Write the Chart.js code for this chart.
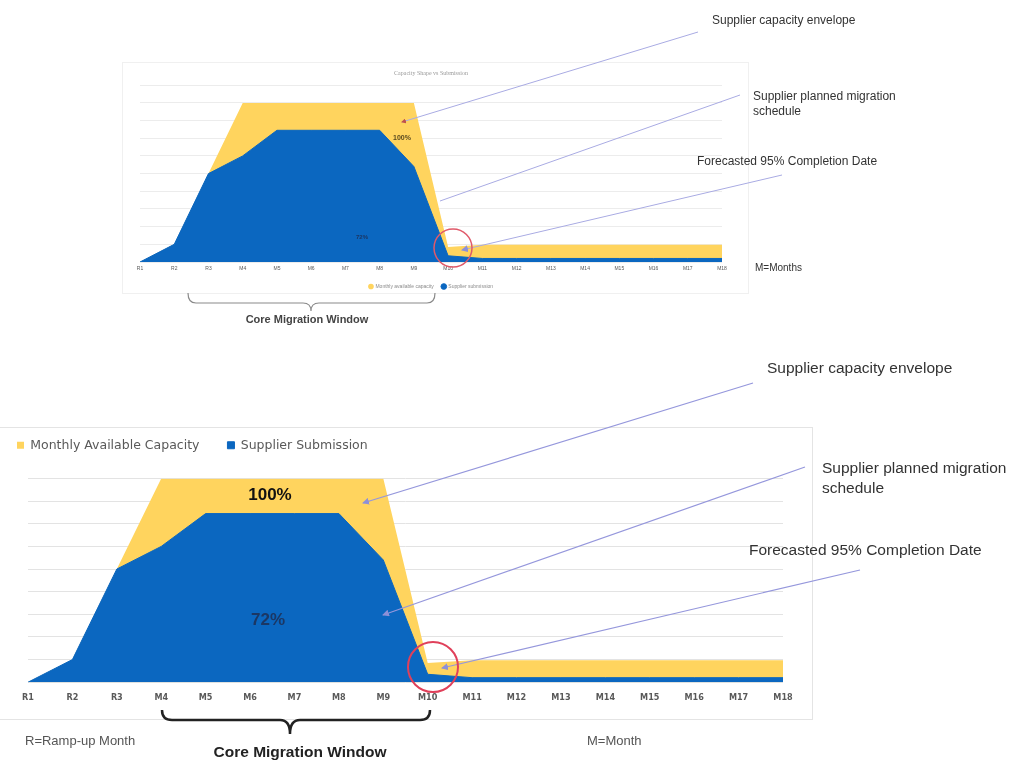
<!DOCTYPE html>
<html>
<head>
<meta charset="utf-8">
<script src="https://cdn.jsdelivr.net/npm/chart.js@4.4.1/dist/chart.umd.min.js"></script>
<style>
  html, body { margin: 0; padding: 0; background: #fff; }
  body { width: 1009px; height: 773px; position: relative; overflow: hidden; font-family: "Liberation Sans", Arial, sans-serif; color: #333; }
  .box { position: absolute; }
  .frame { position: absolute; box-sizing: border-box; }
  .note { position: absolute; white-space: nowrap; line-height: 1; transform: translateY(-50%); }
  .mid { position: absolute; white-space: nowrap; line-height: 1; transform: translate(-50%, -50%); }
</style>
</head>
<body>
<div class="frame" style="left:122px;top:62px;width:627px;height:232px;border:1px solid #f0f0f0"></div>
<div class="frame" style="left:-1px;top:427px;width:814px;height:293px;border:1px solid #e4e4e4"></div>

<div class="box" style="left:0;top:0;width:1009px;height:340px"><canvas id="topChart"></canvas></div>
<div class="box" style="left:-11px;top:340px;width:1020px;height:433px"><canvas id="mainChart"></canvas></div>

<svg width="1009" height="773" style="position:absolute;left:0;top:0;pointer-events:none">
  <defs>
    <marker id="ah" markerWidth="7" markerHeight="7" refX="6" refY="3.5" orient="auto" markerUnits="userSpaceOnUse">
      <path d="M0,0 L7,3.5 L0,7 z" fill="#8d90d8"/>
    </marker>
    <marker id="ahs" markerWidth="5" markerHeight="5" refX="4" refY="2.5" orient="auto" markerUnits="userSpaceOnUse">
      <path d="M0,0 L5,2.5 L0,5 z" fill="#c0504d"/>
    </marker>
  </defs>
  <!-- top chart callouts -->
  <g stroke="#a9abe3" stroke-width="1" fill="none">
    <line x1="698" y1="32" x2="402" y2="122" marker-end="url(#ahs)"/>
    <line x1="740" y1="95" x2="440" y2="201"/>
    <line x1="782" y1="175" x2="462" y2="250" marker-end="url(#ah)"/>
  </g>
  <circle cx="453" cy="248" r="19" stroke="#e05a6a" stroke-width="1.5" fill="none"/>
  <path d="M188,293 Q188,303 196,303 L303,303 Q311,303 311,311 Q311,303 319,303 L427,303 Q435,303 435,293" stroke="#8a8a8a" stroke-width="1.2" fill="none"/>

  <!-- main chart callouts -->
  <g stroke="#9597dc" stroke-width="1.2" fill="none">
    <line x1="753" y1="383" x2="363" y2="503" marker-end="url(#ah)"/>
    <line x1="805" y1="467" x2="383" y2="615" marker-end="url(#ah)"/>
    <line x1="860" y1="570" x2="442" y2="668" marker-end="url(#ah)"/>
  </g>
  <circle cx="433" cy="667" r="25" stroke="#e0405a" stroke-width="2" fill="none"/>
  <path d="M162,710 Q162,720 172,720 L280,720 Q290,720 290,734 Q290,720 300,720 L420,720 Q430,720 430,710" stroke="#222" stroke-width="2.5" fill="none"/>
</svg>

<!-- top chart texts -->
<div class="note" style="left:712px;top:20px;font-size:12px">Supplier capacity envelope</div>
<div class="note" style="left:753px;top:104px;font-size:12px;line-height:15px">Supplier planned migration<br>schedule</div>
<div class="note" style="left:697px;top:161px;font-size:12px">Forecasted 95% Completion Date</div>
<div class="note" style="left:755px;top:268px;font-size:10px">M=Months</div>
<div class="mid" style="left:307px;top:319px;font-size:11px;font-weight:bold;color:#444">Core Migration Window</div>
<div class="mid" style="left:402px;top:137px;font-size:7px;font-weight:bold;color:#5a4a20">100%</div>
<div class="mid" style="left:362px;top:237px;font-size:6px;font-weight:bold;color:#1b3764">72%</div>

<!-- main chart texts -->
<div class="note" style="left:767px;top:368px;font-size:15.5px">Supplier capacity envelope</div>
<div class="note" style="left:822px;top:478px;font-size:15.5px;line-height:20px">Supplier planned migration<br>schedule</div>
<div class="note" style="left:749px;top:550px;font-size:15.5px">Forecasted 95% Completion Date</div>
<div class="note" style="left:25px;top:740px;font-size:13px;color:#555">R=Ramp-up Month</div>
<div class="note" style="left:587px;top:740px;font-size:13px;color:#555">M=Month</div>
<div class="mid" style="left:300px;top:752px;font-size:15.5px;font-weight:bold;color:#222">Core Migration Window</div>
<div class="mid" style="left:270px;top:494px;font-size:17px;font-weight:bold;color:#111">100%</div>
<div class="mid" style="left:268px;top:619px;font-size:17px;font-weight:bold;color:#1b3764">72%</div>

<script>
const monthLabels = ["R1", "R2", "R3", "M4", "M5", "M6", "M7", "M8", "M9", "M10", "M11", "M12", "M13", "M14", "M15", "M16", "M17", "M18"];
const availableCapacity = [0, 1.0, 5.0, 9, 9, 9, 9, 9, 9, 0.85, 0.97, 0.97, 0.97, 0.97, 0.97, 0.97, 0.97, 0.97];
const supplierSubmission = [0, 1.0, 5.0, 6.0, 7.45, 7.45, 7.45, 7.45, 5.4, 0.35, 0.2, 0.2, 0.2, 0.2, 0.2, 0.2, 0.2, 0.2];

const capacityColor = "#ffd45e";
const submissionColor = "#0b67c0";

// extra room under a legend, chart.js has no option for it
const legendGap = (extra) => ({
  id: "legendGap",
  beforeInit(chart) {
    const fit = chart.legend.fit;
    chart.legend.fit = function () {
      fit.call(this);
      this.height += extra;
    };
  }
});

const areaChart = (canvasId, cfg) => {
  const ctx = document.getElementById(canvasId);
  if (!ctx) return null;

  return new Chart(ctx, {
    type: "line",
    data: {
      labels: monthLabels,
      datasets: [
        {
          label: cfg.names[0],
          data: availableCapacity,
          backgroundColor: capacityColor,
          borderColor: capacityColor,
          borderWidth: 0,
          fill: "origin",
          pointRadius: 0,
          pointStyle: cfg.pointStyle,
          order: 2
        },
        {
          label: cfg.names[1],
          data: supplierSubmission,
          backgroundColor: submissionColor,
          borderColor: submissionColor,
          borderWidth: 1,
          fill: "origin",
          pointRadius: 0,
          pointStyle: cfg.pointStyle,
          order: 1
        }
      ]
    },
    options: {
      responsive: true,
      maintainAspectRatio: false,
      animation: false,
      layout: { padding: cfg.padding },
      scales: {
        x: {
          grid: { display: false, drawTicks: false },
          border: { display: false },
          ticks: {
            autoSkip: false,
            maxRotation: 0,
            padding: cfg.tickPad,
            color: "#595959",
            font: cfg.tickFont
          }
        },
        y: {
          min: 0,
          max: cfg.yMax,
          ticks: { display: false, stepSize: 1 },
          grid: { color: cfg.gridColor, drawTicks: false },
          border: { display: false },
          afterFit: (scale) => { scale.width = cfg.yWidth; }
        }
      },
      plugins: {
        title: cfg.title,
        legend: cfg.legend,
        tooltip: { enabled: false }
      }
    },
    plugins: cfg.extraPlugins || []
  });
};

areaChart("topChart", {
  names: ["Monthly available capacity", "Supplier submission"],
  pointStyle: "circle",
  padding: { left: 140, right: 287, top: 60, bottom: 41 },
  tickPad: 4,
  tickFont: { family: "Liberation Sans", size: 5 },
  yMax: 10,
  yWidth: 0,
  gridColor: "#ececec",
  title: {
    display: true,
    text: "Capacity Shape vs Submission",
    color: "#9a9a9a",
    font: { family: "Liberation Serif", size: 6, weight: "normal" },
    padding: { top: 10, bottom: 8 }
  },
  legend: {
    position: "bottom",
    labels: {
      usePointStyle: true,
      boxWidth: 4,
      boxHeight: 4,
      padding: 8,
      color: "#8a8a8a",
      font: { family: "Liberation Sans", size: 5 },
      sort: (a, b) => a.datasetIndex - b.datasetIndex
    }
  }
});

areaChart("mainChart", {
  names: ["Monthly Available Capacity", "Supplier Submission"],
  pointStyle: "rect",
  padding: { left: 0, right: 226, top: 71, bottom: 60 },
  tickPad: 10,
  tickFont: { family: "'Liberation Sans Narrow', 'DejaVu Sans Condensed', sans-serif", size: 9, weight: "bold" },
  yMax: 9,
  yWidth: 39,
  gridColor: "#e3e3e3",
  title: { display: false },
  legend: {
    position: "top",
    align: "start",
    labels: {
      boxWidth: 7,
      boxHeight: 7,
      padding: 28,
      color: "#595959",
      font: { family: "DejaVu Sans", size: 12.5 },
      sort: (a, b) => a.datasetIndex - b.datasetIndex
    }
  },
  extraPlugins: [legendGap(17)]
});
</script>
</body>
</html>
